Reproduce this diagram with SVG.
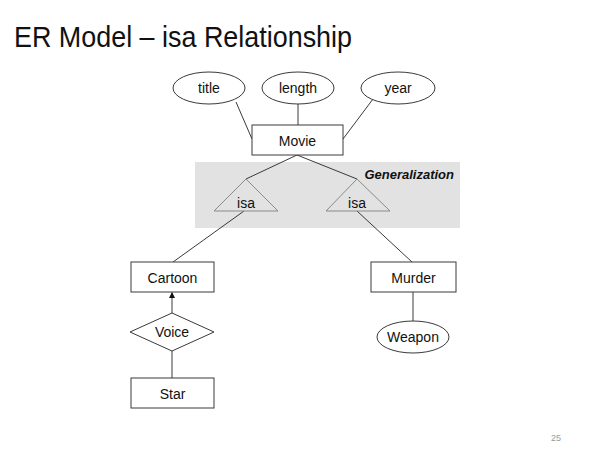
<svg xmlns="http://www.w3.org/2000/svg" width="610" height="458" viewBox="0 0 610 458">
<defs>
<style>
.shape{fill:#fff;stroke:#3a3a3a;stroke-width:1}
.tri{fill:none;stroke:#8a8a8a;stroke-width:1}
.lbl{font-family:"Liberation Sans",Arial,sans-serif;font-size:14px;fill:#111;text-anchor:middle}
.ln{stroke:#3a3a3a;stroke-width:1;fill:none}
</style>
<marker id="arr" viewBox="0 0 6 6" refX="5.5" refY="3" markerWidth="6" markerHeight="6" orient="auto" markerUnits="userSpaceOnUse">
<path d="M0,0 L6,3 L0,6 z" fill="#111"/>
</marker>
</defs>
<rect width="610" height="458" fill="#fff"/>
<text x="14" y="47" font-family="Liberation Sans,Arial,sans-serif" font-size="29" textLength="338" lengthAdjust="spacingAndGlyphs" fill="#111">ER Model – isa Relationship</text>

<rect id="generalization-box" x="195" y="162" width="265" height="66" fill="#e2e2e2"/>
<text x="454" y="179" text-anchor="end" font-family="Liberation Sans,Arial,sans-serif" font-size="13" font-weight="bold" font-style="italic" fill="#111">Generalization</text>

<g id="connectors">
<line class="ln" x1="236" y1="102" x2="252" y2="139"/>
<line class="ln" x1="298" y1="104" x2="298" y2="125"/>
<line class="ln" x1="373" y1="99" x2="343" y2="139"/>
<line class="ln" x1="297" y1="155" x2="246" y2="179"/>
<line class="ln" x1="297" y1="155" x2="357" y2="179"/>
<line class="ln" x1="244" y1="211" x2="173" y2="262"/>
<line class="ln" x1="357" y1="211" x2="412" y2="262"/>
<line class="ln" x1="172" y1="313" x2="172" y2="292.5" marker-end="url(#arr)"/>
<line class="ln" x1="172" y1="351" x2="172" y2="378"/>
<line class="ln" x1="413" y1="292" x2="413" y2="321"/>
</g>

<g id="title-attr"><ellipse class="shape" cx="209" cy="88" rx="36" ry="16"/><text class="lbl" x="209" y="93">title</text></g>
<g id="length-attr"><ellipse class="shape" cx="298" cy="88" rx="36" ry="16"/><text class="lbl" x="298" y="93">length</text></g>
<g id="year-attr"><ellipse class="shape" cx="398" cy="88" rx="37" ry="16"/><text class="lbl" x="398" y="93">year</text></g>

<g id="movie"><rect class="shape" x="252" y="125" width="91" height="30"/><text class="lbl" x="297.5" y="146" font-size="15">Movie</text></g>

<g id="isa-left"><polygon class="tri" points="246,179 214,211 278,211"/><text class="lbl" x="246" y="208" font-size="13">isa</text></g>
<g id="isa-right"><polygon class="tri" points="357,179 326,211 390,211"/><text class="lbl" x="357" y="208" font-size="13">isa</text></g>

<g id="cartoon"><rect class="shape" x="131" y="262" width="83" height="30"/><text class="lbl" x="172.5" y="283" font-size="15">Cartoon</text></g>
<g id="voice"><polygon class="shape" points="172,313 214,332 172,351 130,332"/><text class="lbl" x="172" y="337">Voice</text></g>
<g id="star"><rect class="shape" x="131" y="378" width="83" height="30"/><text class="lbl" x="172.5" y="399" font-size="15">Star</text></g>

<g id="murder"><rect class="shape" x="371" y="262" width="85" height="30"/><text class="lbl" x="413.5" y="283" font-size="15">Murder</text></g>
<g id="weapon"><ellipse class="shape" cx="413" cy="337" rx="36" ry="16"/><text class="lbl" x="413" y="342">Weapon</text></g>

<text x="556" y="441" text-anchor="middle" font-family="Liberation Sans,Arial,sans-serif" font-size="9" fill="#999">25</text>
</svg>
